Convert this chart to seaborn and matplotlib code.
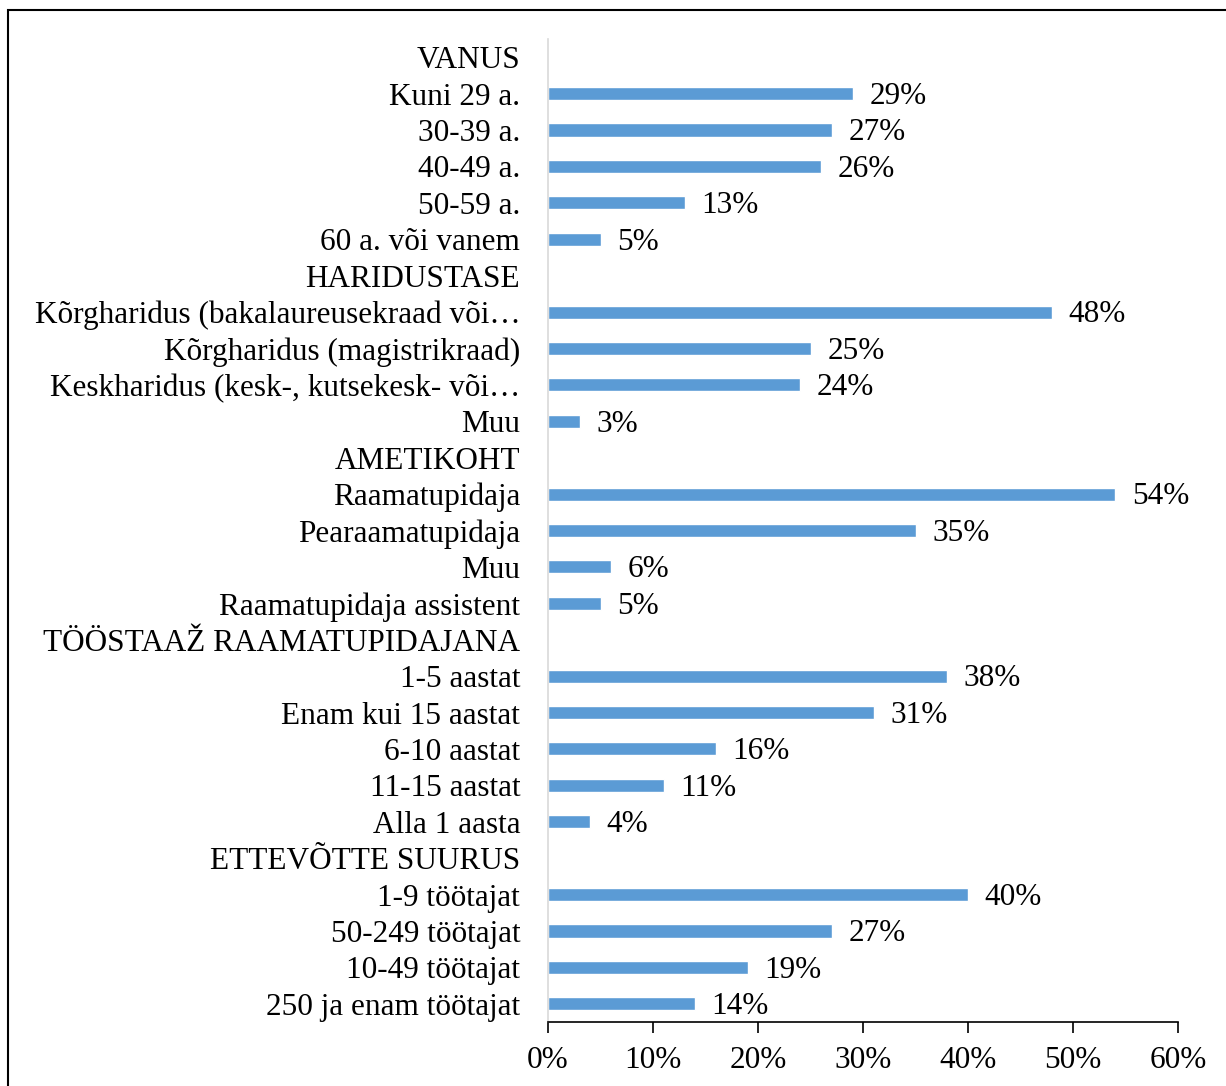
import matplotlib
matplotlib.use("Agg")
import matplotlib.pyplot as plt
import matplotlib.patches as mpatches
from matplotlib.ticker import PercentFormatter
import numpy as np
import pandas as pd
import seaborn as sns

categories = [
    "VANUS", "Kuni 29 a.", "30-39 a.", "40-49 a.", "50-59 a.", "60 a. või vanem",
    "HARIDUSTASE", "Kõrgharidus (bakalaureusekraad või…",
    "Kõrgharidus (magistrikraad)", "Keskharidus (kesk-, kutsekesk- või…", "Muu",
    "AMETIKOHT", "Raamatupidaja", "Pearaamatupidaja", "Muu", "Raamatupidaja assistent",
    "TÖÖSTAAŽ RAAMATUPIDAJANA", "1-5 aastat", "Enam kui 15 aastat", "6-10 aastat",
    "11-15 aastat", "Alla 1 aasta",
    "ETTEVÕTTE SUURUS", "1-9 töötajat", "50-249 töötajat", "10-49 töötajat",
    "250 ja enam töötajat",
]
values = [
    np.nan, 29, 27, 26, 13, 5,
    np.nan, 48, 25, 24, 3,
    np.nan, 54, 35, 6, 5,
    np.nan, 38, 31, 16, 11, 4,
    np.nan, 40, 27, 19, 14,
]
x_ticks = [0, 10, 20, 30, 40, 50, 60]

row_ids = [f"r{i:02d}" for i in range(len(categories))]
df = pd.DataFrame({"row": row_ids, "category": categories, "value": values})
plot_df = df.assign(value=df["value"].fillna(0))

sns.set_theme(style="white")
plt.rcParams["font.family"] = ["Liberation Serif", "DejaVu Serif"]

fig = plt.figure(figsize=(12.26, 10.86), dpi=100)
ax = fig.add_axes([548 / 1226, 1 - 1022 / 1086, 630 / 1226, (1022 - 39) / 1086])

sns.barplot(data=plot_df, y="row", x="value", order=row_ids, color="#5B9BD5",
            saturation=1, width=0.36, ax=ax, orient="h")

labels = ["" if np.isnan(v) else f"{int(v)}%" for v in values]
texts = ax.bar_label(ax.containers[0], labels=labels, padding=12, fontsize=22.5,
                     color="black")
for t in texts:
    t.xyann = (12, -2)

ax.set_xlim(0, 60)
ax.set_ylim(len(categories) - 0.5, -0.5)
ax.set_yticks(range(len(categories)))
ax.set_yticklabels(categories)
ax.set_xticks(x_ticks)
ax.xaxis.set_major_formatter(PercentFormatter(decimals=0))
ax.set_xlabel("")
ax.set_ylabel("")
ax.tick_params(axis="x", which="major", direction="out", length=8, width=1.2,
               color="black", labelsize=22.5, labelcolor="black", pad=9, bottom=True)
ax.tick_params(axis="y", length=0, labelsize=22.5, labelcolor="black", pad=20)

for s in ["top", "right"]:
    ax.spines[s].set_visible(False)
ax.spines["left"].set_color("#D9D9D9")
ax.spines["left"].set_linewidth(1.2)
ax.spines["bottom"].set_color("black")
ax.spines["bottom"].set_linewidth(1.2)
ax.grid(False)

border = mpatches.Rectangle((8 / 1226, -0.05), 1.2, 1 - 10 / 1086 + 0.05,
                            transform=fig.transFigure, fill=False,
                            edgecolor="black", linewidth=1.5)
fig.patches.append(border)

fig.savefig("out.png", dpi=100)
